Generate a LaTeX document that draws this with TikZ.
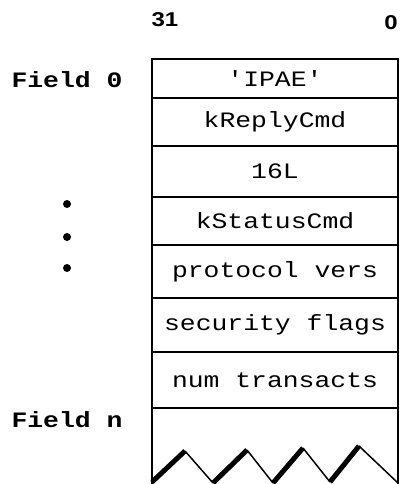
\documentclass[tikz,border=0pt]{standalone}
\usepackage{fontspec}
\setmonofont{Liberation Mono}
\newfontfamily\bitfont{Liberation Sans}

\begin{document}
\begin{tikzpicture}[x=1pt,y=-1pt,
  cell/.style={font=\ttfamily\fontsize{22}{26}\selectfont,xscale=1.2,inner sep=0pt},
  side/.style={font=\ttfamily\bfseries\fontsize{22}{26}\selectfont,xscale=1.2,inner sep=0pt},
  bit/.style={font=\bitfont\bfseries\fontsize{20}{24}\selectfont,xscale=1.2,inner sep=0pt},
  rule/.style={line width=2pt},
  up/.style={line width=5pt},
  down/.style={line width=1.5pt}]
\useasboundingbox (0,0) rectangle (400,484);
% frame and field separators
\draw[rule] (152,484) -- (152,59) -- (398,59) -- (398,484);
\draw[rule] (152,98) -- (398,98);
\draw[rule] (152,146) -- (398,146);
\draw[rule] (152,197) -- (398,197);
\draw[rule] (152,245) -- (398,245);
\draw[rule] (152,298) -- (398,298);
\draw[rule] (152,352) -- (398,352);
\draw[rule] (152,408) -- (398,408);
% torn bottom edge
\coordinate (z0) at (152,482);
\coordinate (z1) at (185,451);
\coordinate (z2) at (213,483);
\coordinate (z3) at (247,450);
\coordinate (z4) at (273,483);
\coordinate (z5) at (303,448);
\coordinate (z6) at (330,482);
\coordinate (z7) at (359,446);
\coordinate (z8) at (398,483);
\draw[up] (z0) -- (z1);
\draw[down] (z1) -- (z2);
\draw[up] (z2) -- (z3);
\draw[down] (z3) -- (z4);
\draw[up] (z4) -- (z5);
\draw[down] (z5) -- (z6);
\draw[up] (z6) -- (z7);
\draw[down] (z7) -- (z8);
% bit numbers
\node (b31) at (165,20) [bit]{31};
\node (b0) at (391,23) [bit]{0};
% field contents
\node (f0) at (275,79) [cell]{'IPAE'};
\node (f1) at (275,122) [cell]{kReplyCmd};
\node (f2) at (275,171.5) [cell]{16L};
\node (f3) at (275,221) [cell]{kStatusCmd};
\node (f4) at (275,271.5) [cell]{protocol vers};
\node (f5) at (275,325) [cell]{security flags};
\node (f6) at (275,380) [cell]{num transacts};
% left side labels
\node (l0) at (67,80) [side]{Field 0};
\node (ln) at (67,420) [side]{Field n};
\fill (67,204) circle (4);
\fill (67,237) circle (4);
\fill (67,268) circle (4);
\end{tikzpicture}
\end{document}
